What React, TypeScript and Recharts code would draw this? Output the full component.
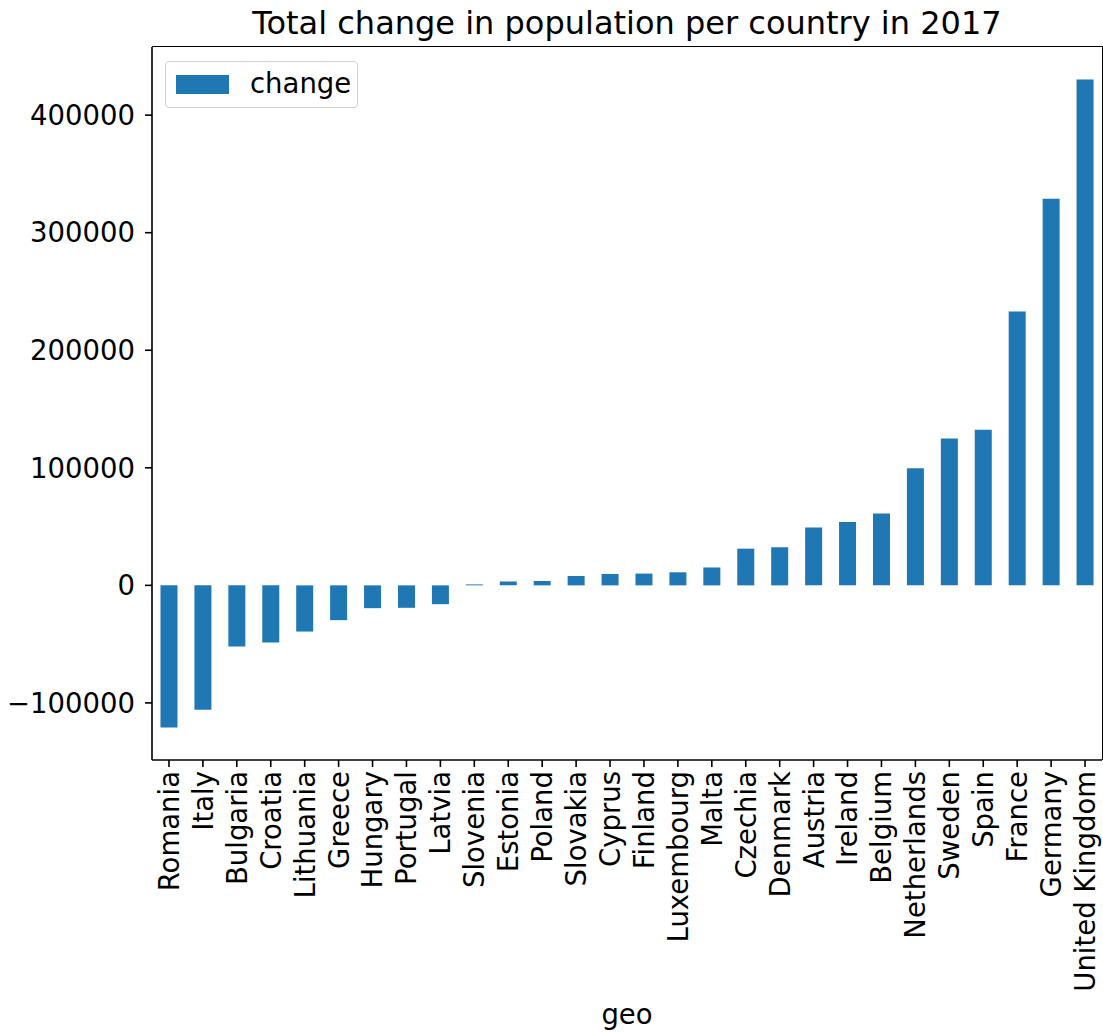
import React from "react";
import { BarChart, Bar, XAxis, YAxis, Legend, Label } from "recharts";

const countries = [
  "Romania", "Italy", "Bulgaria", "Croatia", "Lithuania", "Greece", "Hungary",
  "Portugal", "Latvia", "Slovenia", "Estonia", "Poland", "Slovakia", "Cyprus",
  "Finland", "Luxembourg", "Malta", "Czechia", "Denmark", "Austria", "Ireland",
  "Belgium", "Netherlands", "Sweden", "Spain", "France", "Germany", "United Kingdom",
];
const changeValues = [
  -121000, -105900, -52100, -48700, -39300, -29600, -19400,
  -19100, -16000, 800, 3200, 3700, 8000, 9700,
  10000, 11100, 15200, 31200, 32400, 49300, 53800,
  61200, 99700, 124900, 132400, 232900, 328800, 430400,
];
const yTicks = [-100000, 0, 100000, 200000, 300000, 400000];

const data = countries.map((geo, i) => ({ geo, change: changeValues[i] }));

const FONT = "DejaVu Sans";
const TICK_FS = 27.5;

const XTick = (props: any) => {
  const { x, y, payload } = props;
  return (
    <text
      x={0}
      y={0}
      transform={`translate(${x},${y}) rotate(-90)`}
      textAnchor="end"
      dy="0.36em"
      fontFamily={FONT}
      fontSize={TICK_FS}
      fill="#000"
    >
      {payload.value}
    </text>
  );
};

const LegendBox = () => (
  <div
    style={{
      position: "absolute",
      left: 165,
      top: 61,
      width: 193,
      height: 47,
      border: "1.5px solid #d0d0d0",
      borderRadius: 4,
      background: "#fff",
      boxSizing: "border-box",
      fontFamily: FONT,
      fontSize: TICK_FS,
    }}
  >
    <div
      style={{
        position: "absolute",
        left: 10,
        top: 13,
        width: 53,
        height: 19,
        background: "#1f77b4",
      }}
    />
    <div style={{ position: "absolute", left: 84, top: 6, lineHeight: "30px" }}>
      change
    </div>
  </div>
);

export default function App() {
  return (
    <div style={{ position: "absolute", left: 0, top: 0, width: 1103, height: 1032, background: "#fff" }}>
      <div
        style={{
          position: "absolute",
          left: 152,
          width: 950,
          top: 4,
          textAlign: "center",
          fontFamily: FONT,
          fontSize: 32,
          lineHeight: "38px",
        }}
      >
        Total change in population per country in 2017
      </div>
      <BarChart
        width={1103}
        height={1032}
        data={data}
        margin={{ top: 47, right: 1, left: 0, bottom: 0 }}
        barCategoryGap="25%"
      >
        <XAxis
          dataKey="geo"
          interval={0}
          height={272}
          tickSize={7}
          tickLine={{ stroke: "#000", strokeWidth: 1.6 }}
          axisLine={{ stroke: "#000", strokeWidth: 1.6 }}
          tick={<XTick />}
          tickMargin={4}
        >
          <Label
            value="geo"
            position="insideBottom"
            offset={8}
            style={{ fontFamily: FONT, fontSize: TICK_FS, fill: "#000" }}
          />
        </XAxis>
        <YAxis
          width={152}
          domain={[-148570, 457970]}
          ticks={yTicks}
          allowDataOverflow
          tickSize={7}
          tickMargin={10}
          tickLine={{ stroke: "#000", strokeWidth: 1.6 }}
          axisLine={{ stroke: "#000", strokeWidth: 1.6 }}
          tick={{ fontFamily: FONT, fontSize: TICK_FS, fill: "#000" }}
          tickFormatter={(v: number) => (v < 0 ? "\u2212" + Math.abs(v) : String(v))}
        />
        <Legend content={<LegendBox />} wrapperStyle={{ position: "absolute", left: 0, top: 0, width: 0, height: 0 }} />
        <Bar dataKey="change" fill="#1f77b4" isAnimationActive={false} />
      </BarChart>
      <div
        style={{
          position: "absolute",
          left: 152,
          top: 46.2,
          width: 950.8,
          height: 714,
          borderTop: "1.6px solid #000",
          borderRight: "1.6px solid #000",
          boxSizing: "border-box",
          pointerEvents: "none",
        }}
      />
    </div>
  );
}
